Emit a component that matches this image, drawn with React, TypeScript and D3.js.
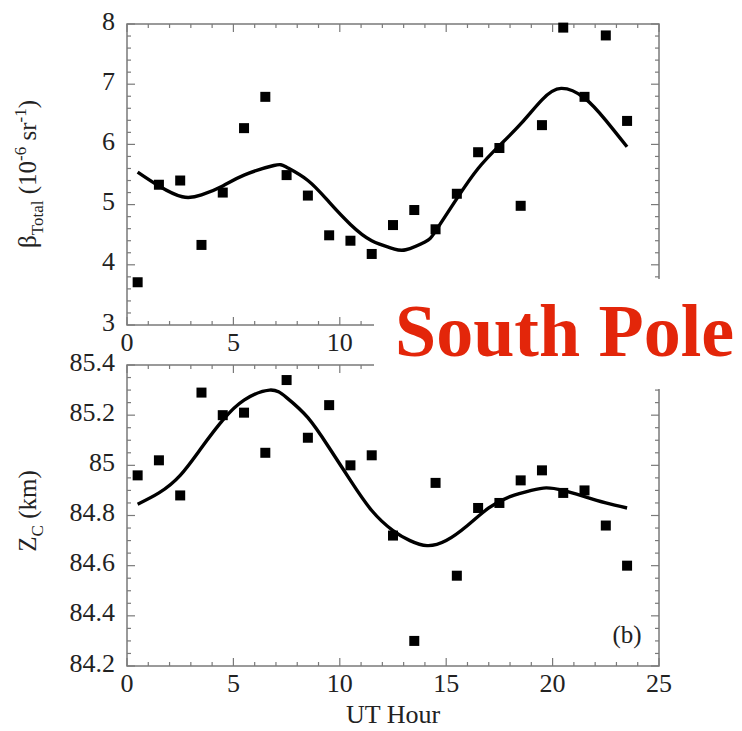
import React from "react";
import * as d3 from "d3";

const hours = [0.5,1.5,2.5,3.5,4.5,5.5,6.5,7.5,8.5,9.5,10.5,11.5,12.5,13.5,14.5,15.5,16.5,17.5,18.5,19.5,20.5,21.5,22.5,23.5];
const betaObs = [3.71,5.33,5.40,4.33,5.20,6.27,6.79,5.49,5.15,4.49,4.40,4.18,4.66,4.91,4.59,5.18,5.87,5.94,4.98,6.32,7.94,6.79,7.81,6.39];
const betaFitX = [0.5,1.5,2.6,3.5,4.5,5.5,6.9,7.5,8.5,9.5,10.5,11.5,12.5,13.1,14.0,14.5,15.5,16.5,17.5,18.5,19.5,20.4,21.5,22.5,23.5];
const betaFitY = [5.54,5.31,5.13,5.16,5.31,5.49,5.65,5.62,5.40,5.04,4.67,4.40,4.27,4.25,4.38,4.56,5.10,5.60,5.98,6.34,6.74,6.93,6.77,6.40,5.96];
const zcObs = [84.96,85.02,84.88,85.29,85.20,85.21,85.05,85.34,85.11,85.24,85.00,85.04,84.72,84.30,84.93,84.56,84.83,84.85,84.94,84.98,84.89,84.90,84.76,84.60];
const zcFitX = [0.5,1.5,2.5,3.5,4.5,5.5,6.7,7.5,8.5,9.5,10.5,11.5,12.5,13.3,14.1,15.0,16.0,17.0,18.0,19.0,19.7,20.5,21.5,22.5,23.5];
const zcFitY = [84.845,84.89,84.96,85.07,85.18,85.26,85.30,85.27,85.19,85.07,84.94,84.82,84.74,84.70,84.68,84.70,84.76,84.83,84.875,84.90,84.91,84.90,84.875,84.85,84.83];
const xTicks = [0,5,10,15,20,25];
const topXTicks = [0,5,10];
const betaTicks = [3,4,5,6,7,8];
const zcTicks = [84.2,84.4,84.6,84.8,85,85.2,85.4];

const FONT = "Liberation Serif";
const AX = "#7a7a7a";
const TXT = "#222";
const X0 = 127, X1 = 659;

function Panel({ top, bottom, domain, minorStep, majorTicks, labelsX, obs, fitX, fitY, fmt, showB }: any) {
  const x = d3.scaleLinear().domain([0, 25]).range([X0, X1]);
  const y = d3.scaleLinear().domain(domain).range([bottom, top]);
  const minorX = d3.range(0, 25.001, 1);
  const nMinor = Math.round((domain[1] - domain[0]) / minorStep);
  const minorY = d3.range(0, nMinor + 1).map((i) => domain[0] + i * minorStep);
  const line = d3.line<number>().x((d, i) => x(fitX[i])).y((d) => y(d)).curve(d3.curveNatural);
  const isMajorX = (v: number) => Math.abs(v % 5) < 1e-6;
  const isMajorY = (v: number) => majorTicks.some((t: number) => Math.abs(t - v) < 1e-6);
  return (
    <g>
      <rect x={X0} y={top} width={X1 - X0} height={bottom - top} fill="none" stroke={AX} strokeWidth={1.5} />
      {minorX.map((v) => {
        const L = isMajorX(v) ? 8 : 4;
        return (
          <g key={"x" + v}>
            <line x1={x(v)} x2={x(v)} y1={bottom} y2={bottom - L} stroke={AX} strokeWidth={1.2} />
            <line x1={x(v)} x2={x(v)} y1={top} y2={top + L} stroke={AX} strokeWidth={1.2} />
          </g>
        );
      })}
      {minorY.map((v, i) => {
        const L = isMajorY(v) ? 8 : 4;
        return (
          <g key={"y" + i}>
            <line x1={X0} x2={X0 + L} y1={y(v)} y2={y(v)} stroke={AX} strokeWidth={1.2} />
            <line x1={X1} x2={X1 - L} y1={y(v)} y2={y(v)} stroke={AX} strokeWidth={1.2} />
          </g>
        );
      })}
      {majorTicks.map((v: number) => (
        <text key={"yl" + v} x={X0 - 12} y={y(v) + 5.5} textAnchor="end" fontFamily={FONT} fontSize={26} fill={TXT}>{fmt(v)}</text>
      ))}
      {labelsX.map((v: number) => (
        <text key={"xl" + v} x={x(v)} y={bottom + 26} textAnchor="middle" fontFamily={FONT} fontSize={26} fill={TXT}>{v}</text>
      ))}
      <path d={line(fitY) as string} fill="none" stroke="#000" strokeWidth={3.4} />
      {obs.map((v: number, i: number) => (
        <rect key={"p" + i} x={x(hours[i]) - 5} y={y(v) - 5} width={10} height={10} fill="#000" />
      ))}
      {showB && (
        <text x={627} y={643} textAnchor="middle" fontFamily={FONT} fontSize={25} fill={TXT}>(b)</text>
      )}
    </g>
  );
}

export default function App() {
  return (
    <svg width={742} height={731} fontFamily={FONT} style={{ position: "absolute", left: 0, top: 0 }}>
      <rect x={0} y={0} width={742} height={731} fill="#fff" />
      <Panel top={24} bottom={325} domain={[3, 8]} minorStep={0.2} majorTicks={betaTicks} labelsX={topXTicks} obs={betaObs} fitX={betaFitX} fitY={betaFitY} fmt={(v: number) => String(v)} />
      <Panel top={365} bottom={666} domain={[84.2, 85.4]} minorStep={0.05} majorTicks={zcTicks} labelsX={xTicks} obs={zcObs} fitX={zcFitX} fitY={zcFitY} fmt={(v: number) => (v === 85 ? "85" : v.toFixed(1))} showB />
      <rect x={374} y={279} width={368} height={110} fill="#fff" />
      <text x={395} y={356} fontFamily={FONT} fontWeight="bold" fontSize={74} fill="#e3260a">South Pole</text>
      <text transform="translate(36,174) rotate(-90)" textAnchor="middle" fontFamily={FONT} fontSize={25} fill={TXT}>
        <tspan>β</tspan>
        <tspan fontSize={17} dy={7}>Total</tspan>
        <tspan dy={-7}> (10</tspan>
        <tspan fontSize={17} dy={-10}>-6</tspan>
        <tspan dy={10}> sr</tspan>
        <tspan fontSize={17} dy={-10}>-1</tspan>
        <tspan dy={10}>)</tspan>
      </text>
      <text transform="translate(36,511) rotate(-90)" textAnchor="middle" fontFamily={FONT} fontSize={25} fill={TXT}>
        <tspan>Z</tspan>
        <tspan fontSize={17} dy={7}>C</tspan>
        <tspan dy={-7}> (km)</tspan>
      </text>
      <text x={393} y={723} textAnchor="middle" fontFamily={FONT} fontSize={26} fill={TXT}>UT Hour</text>
    </svg>
  );
}
